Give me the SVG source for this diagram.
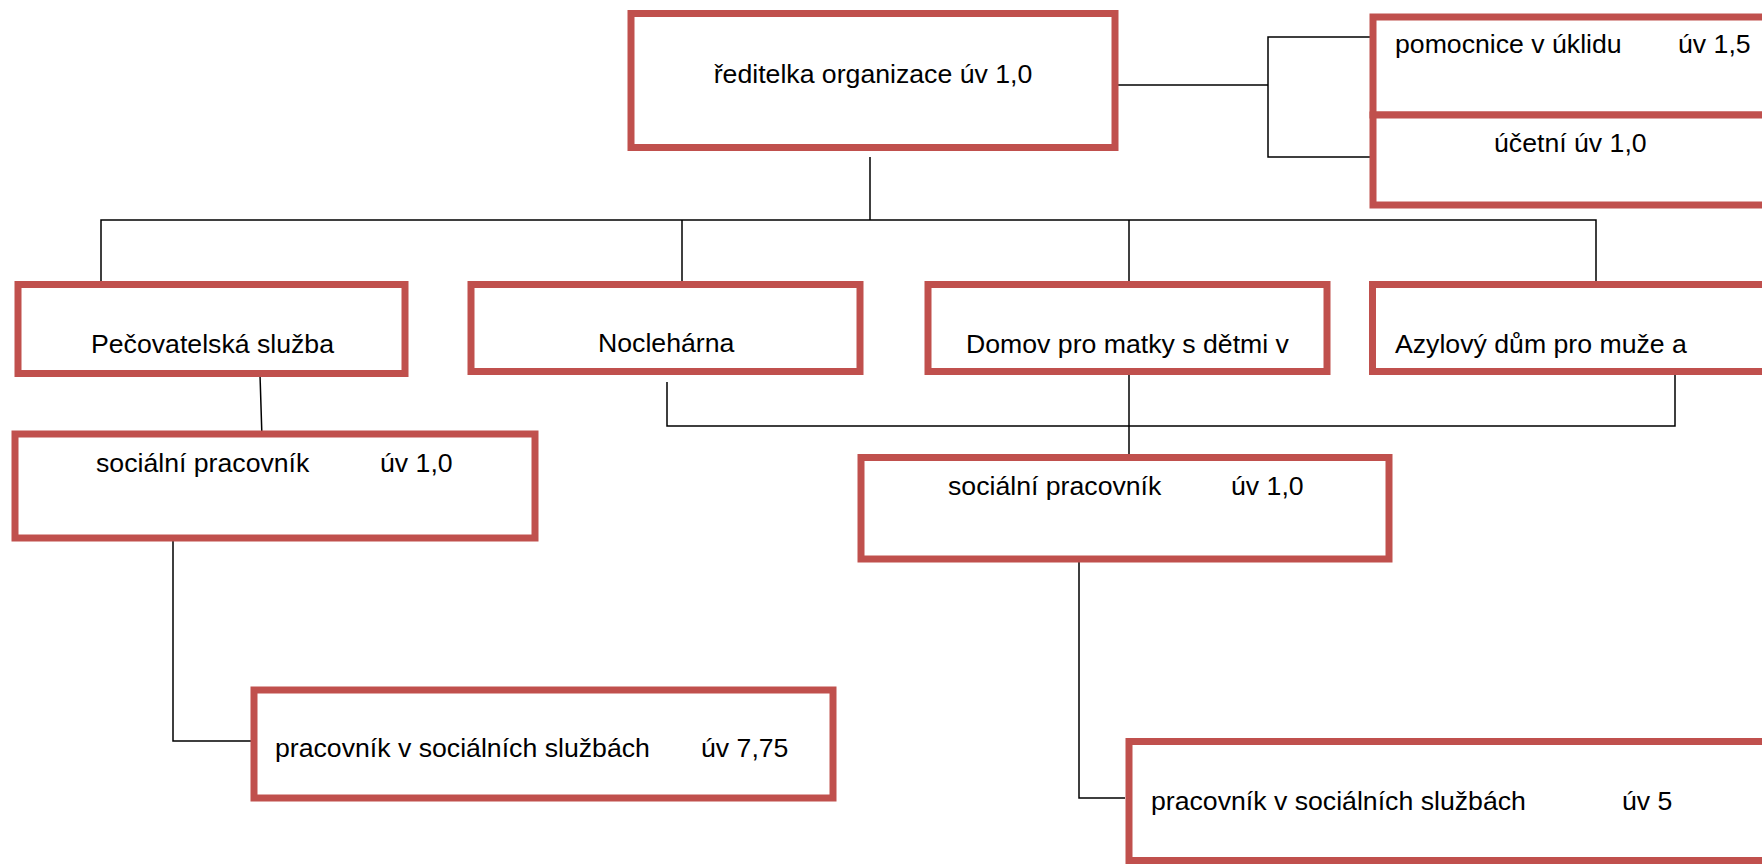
<svg xmlns="http://www.w3.org/2000/svg" width="1762" height="864" viewBox="0 0 1762 864">
<style>
.box{fill:#fff;stroke:#C0504D;stroke-width:7}
.c{fill:none;stroke:#000;stroke-width:1.5}
text{font-family:"Liberation Sans",Arial,sans-serif;font-size:26.67px;fill:#000}
</style>
<rect width="1762" height="864" fill="#fff"/>
<g id="connectors">
<polyline class="c" points="1112,85 1268,85"/>
<polyline class="c" points="1372,37 1268,37 1268,157 1372,157"/>
<polyline class="c" points="870,157 870,220"/>
<polyline class="c" points="101,285 101,220 1596,220 1596,285"/>
<polyline class="c" points="682,220 682,285"/>
<polyline class="c" points="1129,220 1129,285"/>
<polyline class="c" points="260,375 262,438"/>
<polyline class="c" points="667,382 667,426 1675,426 1675,373"/>
<polyline class="c" points="1129,372 1129,456"/>
<polyline class="c" points="173,536 173,741 254,741"/>
<polyline class="c" points="1079,560 1079,798 1125,798"/>
</g>
<g id="n-reditelka">
<rect class="box" x="631" y="13.5" width="484" height="134"/>
<text x="873" y="83" text-anchor="middle">ředitelka organizace úv 1,0</text>
</g>
<g id="n-pomocnice">
<rect class="box" x="1373" y="17" width="420" height="98"/>
<text x="1395" y="53">pomocnice v úklidu<tspan x="1678">úv 1,5</tspan></text>
</g>
<g id="n-ucetni">
<rect class="box" x="1373" y="115" width="420" height="90"/>
<text x="1494" y="152">účetní úv 1,0</text>
</g>
<g id="n-pecovatelska">
<rect class="box" x="18" y="284.5" width="387" height="89"/>
<text x="91" y="353">Pečovatelská služba</text>
</g>
<g id="n-nocleharna">
<rect class="box" x="471" y="284.5" width="389" height="87"/>
<text x="598" y="352">Noclehárna</text>
</g>
<g id="n-domov">
<rect class="box" x="928" y="284.5" width="399" height="87"/>
<text x="966" y="353">Domov pro matky s dětmi v</text>
</g>
<g id="n-azylovy">
<rect class="box" x="1372.5" y="284.5" width="420" height="87"/>
<text x="1395" y="353">Azylový dům pro muže a</text>
</g>
<g id="n-socialni-1">
<rect class="box" x="15" y="434" width="520" height="104"/>
<text x="96" y="472">sociální pracovník<tspan x="380">úv 1,0</tspan></text>
</g>
<g id="n-socialni-2">
<rect class="box" x="861" y="457.5" width="528" height="101.5"/>
<text x="948" y="495">sociální pracovník<tspan x="1231">úv 1,0</tspan></text>
</g>
<g id="n-pracovnik-1">
<rect class="box" x="254" y="690" width="579" height="108"/>
<text x="275" y="757">pracovník v sociálních službách<tspan x="701">úv 7,75</tspan></text>
</g>
<g id="n-pracovnik-2">
<rect class="box" x="1129" y="741.5" width="680" height="119"/>
<text x="1151" y="810">pracovník v sociálních službách<tspan x="1622">úv 5</tspan></text>
</g>
</svg>
